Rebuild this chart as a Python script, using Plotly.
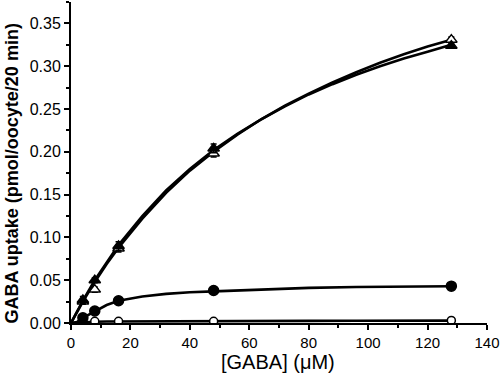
import plotly.graph_objects as go

# measured points
x_pts = [4, 8, 16, 48, 128]
tri_filled = [0.027, 0.050, 0.090, 0.204, 0.324]
tri_filled_err = [0.004, 0.003, 0.005, 0.005, 0.003]
tri_open = [0.025, 0.039, 0.087, 0.198, 0.331]
tri_open_err = [0.003, 0.003, 0.004, 0.004, 0.003]
circ_filled = [0.006, 0.014, 0.026, 0.038, 0.043]
circ_filled_err = [0.001, 0.001, 0.001, 0.002, 0.001]
x_open_circ = [8, 16, 48, 128]
circ_open = [0.002, 0.002, 0.002, 0.003]
circ_open_err = [0.001, 0.001, 0.001, 0.002]

# fitted curves
x_fit = [0, 2, 4, 8, 12, 16, 24, 32, 40, 48, 56, 64, 72, 80, 88, 96, 104, 112, 120, 128]
fit_tri_filled = [0, 0.013, 0.026, 0.050, 0.071, 0.091, 0.125, 0.155, 0.180, 0.202,
                  0.221, 0.238, 0.253, 0.267, 0.279, 0.290, 0.300, 0.309, 0.317, 0.325]
fit_tri_open = [0, 0.013, 0.025, 0.048, 0.069, 0.088, 0.122, 0.152, 0.178, 0.200,
                0.220, 0.238, 0.254, 0.268, 0.281, 0.293, 0.304, 0.314, 0.323, 0.331]
x_fit_c = [0, 2, 4, 6, 8, 12, 16, 24, 32, 40, 48, 64, 80, 96, 112, 128]
fit_circ_filled = [0, 0.001, 0.006, 0.010, 0.014, 0.021, 0.026, 0.031, 0.034, 0.036,
                   0.037, 0.039, 0.041, 0.042, 0.0425, 0.043]
fit_circ_open = [0, 0.0005, 0.001, 0.0012, 0.0015, 0.0017, 0.0018, 0.002, 0.0021, 0.0022,
                 0.0022, 0.0024, 0.0025, 0.0026, 0.0027, 0.0028]

x_title = "[GABA] (μM)"
y_title = "<b>GABA uptake (pmol/oocyte/20 min)</b>"

fig = go.Figure()
LW = 2.6
for xs, ys in [(x_fit, fit_tri_filled), (x_fit, fit_tri_open), (x_fit_c, fit_circ_filled), (x_fit_c, fit_circ_open)]:
    fig.add_trace(go.Scatter(x=xs, y=ys, mode="lines", line=dict(color="black", width=LW), hoverinfo="skip"))

def pts(xs, ys, err, symbol, fill, size):
    fig.add_trace(go.Scatter(
        x=xs, y=ys, mode="markers",
        error_y=dict(type="data", array=err, color="black", thickness=1.5, width=3),
        marker=dict(symbol=symbol, size=size, color=fill, line=dict(color="black", width=1.5)),
    ))

pts(x_open_circ, circ_open, circ_open_err, "circle", "white", 8)
pts(x_pts, circ_filled, circ_filled_err, "circle", "black", 10)
pts(x_pts, tri_open, tri_open_err, "triangle-up", "white", 10)
pts(x_pts, tri_filled, tri_filled_err, "triangle-up", "black", 10)

W, H = 500, 380
L, R, T, B = 71, 13, 2, 57
PW, PH = W - L - R, H - T - B

fig.update_layout(
    width=W, height=H,
    margin=dict(l=L, r=R, t=T, b=B, autoexpand=False),
    paper_bgcolor="white", plot_bgcolor="white",
    showlegend=False,
    font=dict(family="Liberation Sans, Arial, sans-serif", color="black"),
    xaxis=dict(
        range=[0, 140], dtick=20, tick0=0, showgrid=False, zeroline=False,
        showline=True, linecolor="black", linewidth=2, automargin=False,
        ticks="outside", ticklen=5, tickwidth=1.5, tickcolor="black",
        minor=dict(dtick=10, ticks="outside", ticklen=3, tickcolor="black", tickwidth=1.5),
        tickfont=dict(size=15),
    ),
    yaxis=dict(
        range=[0, 0.375], dtick=0.05, tick0=0, tickformat=".2f", showgrid=False, zeroline=False,
        showline=True, linecolor="black", linewidth=2, automargin=False,
        ticks="outside", ticklen=5, tickwidth=1.5, tickcolor="black",
        minor=dict(dtick=0.025, ticks="outside", ticklen=3, tickcolor="black", tickwidth=1.5),
        tickfont=dict(size=16),
    ),
    annotations=[
        dict(text=x_title, xref="paper", yref="paper", x=(277.5 - L) / PW, y=(323 - 362) / PH,
             xanchor="center", yanchor="middle", showarrow=False, font=dict(size=20)),
        dict(text=y_title, xref="paper", yref="paper", x=(11 - L) / PW, y=(323 - 173.5) / PH,
             xanchor="center", yanchor="middle", showarrow=False, textangle=-90, font=dict(size=18)),
    ],
)

fig.write_html(
    "out.html",
    config={"displayModeBar": False},
    post_script="document.body.style.margin='0';document.body.style.overflow='hidden';",
)
